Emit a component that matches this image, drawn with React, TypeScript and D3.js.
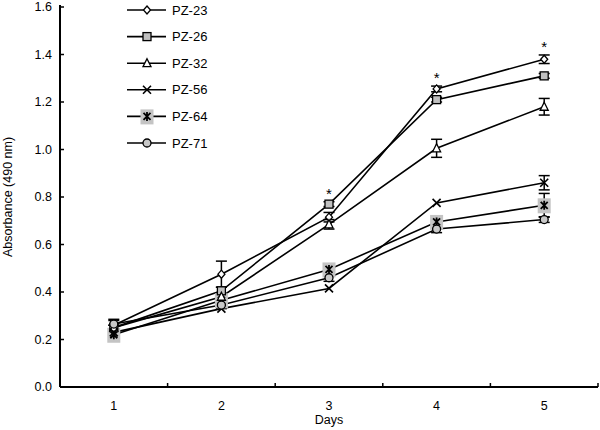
import React from "react";
import * as d3 from "d3";

const days = ["1", "2", "3", "4", "5"];
const seriesNames = ["PZ-23", "PZ-26", "PZ-32", "PZ-56", "PZ-64", "PZ-71"];
const pz23 = [0.26, 0.475, 0.715, 1.255, 1.38];
const pz26 = [0.25, 0.405, 0.77, 1.21, 1.31];
const pz32 = [0.25, 0.38, 0.685, 1.005, 1.18];
const pz56 = [0.23, 0.33, 0.415, 0.775, 0.86];
const pz64 = [0.22, 0.365, 0.495, 0.695, 0.765];
const pz71 = [0.265, 0.345, 0.46, 0.665, 0.705];
const err23 = [0.02, 0.055, 0.02, 0.012, 0.018];
const err26 = [0.01, 0.015, 0.01, 0.01, 0.01];
const err32 = [0.01, 0.01, 0.02, 0.038, 0.035];
const err56 = [0, 0, 0, 0, 0.03];
const err64 = [0.015, 0.02, 0.02, 0.02, 0.05];
const err71 = [0.02, 0.015, 0.015, 0.015, 0.012];
const yTicks = [0, 0.2, 0.4, 0.6, 0.8, 1.0, 1.2, 1.4, 1.6];
const starDays = ["3", "4", "5"];
const starValues = [0.77, 1.255, 1.38];
const starErrs = [0.01, 0.012, 0.018];

const values = [pz23, pz26, pz32, pz56, pz64, pz71];
const errs = [err23, err26, err32, err56, err64, err71];
const kinds = ["diamond", "square", "triangle", "x", "star", "circle"];

function Marker({ kind, x, y }: { kind: string; x: number; y: number }) {
  const s = "#000";
  switch (kind) {
    case "diamond":
      return <path d={`M${x},${y - 4}L${x + 3.5},${y}L${x},${y + 4}L${x - 3.5},${y}Z`} fill="#fff" stroke={s} strokeWidth={1.3} />;
    case "square":
      return <rect x={x - 4} y={y - 4} width={8} height={8} fill="#c0c0c0" stroke={s} strokeWidth={1.3} />;
    case "triangle":
      return <path d={`M${x},${y - 4.5}L${x + 4},${y + 3.5}L${x - 4},${y + 3.5}Z`} fill="#fff" stroke={s} strokeWidth={1.3} />;
    case "x":
      return <path d={`M${x - 4},${y - 4}L${x + 4},${y + 4}M${x + 4},${y - 4}L${x - 4},${y + 4}`} stroke={s} strokeWidth={1.6} />;
    case "star":
      return (
        <g>
          <rect x={x - 6.5} y={y - 7} width={13} height={15} fill="#c4c4c4" />
          <path d={`M${x - 3.5},${y - 3.5}L${x + 3.5},${y + 3.5}M${x + 3.5},${y - 3.5}L${x - 3.5},${y + 3.5}M${x},${y - 4.5}L${x},${y + 4.5}`} stroke={s} strokeWidth={1.8} />
        </g>
      );
    default:
      return <circle cx={x} cy={y} r={4} fill="#c8c8c8" stroke={s} strokeWidth={1.3} />;
  }
}

export default function App() {
  const W = 600, H = 430;
  const left = 60, right = 598, top = 7, bottom = 387;
  const x = d3.scaleBand<string>().domain(days).range([left, right]);
  const y = d3.scaleLinear().domain([0, 1.6]).range([bottom, top]);
  const cx = (d: string) => (x(d) as number) + x.bandwidth() / 2;
  const line = d3.line<number>().x((_, i) => cx(days[i])).y((v) => y(v));
  const boundaries = days.map((d) => (x(d) as number) + x.bandwidth());
  const font = "Liberation Sans, Arial, sans-serif";
  const legendY = d3.scalePoint<string>().domain(seriesNames).range([10, 143]);

  return (
    <svg width={W} height={H} style={{ position: "absolute", left: 0, top: 0, background: "#fff" }} fontFamily={font}>
      <rect width={W} height={H} fill="#fff" />
      <line x1={left} y1={top - 2} x2={left} y2={bottom} stroke="#000" strokeWidth={2} />
      <line x1={left} y1={bottom} x2={right} y2={bottom} stroke="#000" strokeWidth={2} />
      {yTicks.map((t) => (
        <g key={t}>
          <line x1={left} x2={left + 4} y1={y(t)} y2={y(t)} stroke="#000" strokeWidth={1.5} />
          <text x={left - 8} y={y(t)} dy="0.35em" textAnchor="end" fontSize={12.5}>{t.toFixed(1)}</text>
        </g>
      ))}
      {boundaries.map((b, i) => (
        <line key={i} x1={b} x2={b} y1={bottom} y2={bottom - 4} stroke="#000" strokeWidth={1.5} />
      ))}
      {days.map((d) => (
        <text key={d} x={cx(d)} y={410} textAnchor="middle" fontSize={12.5}>{d}</text>
      ))}
      <text x={cx("3")} y={424} textAnchor="middle" fontSize={12.5}>Days</text>
      <text transform={`translate(12,${(top + bottom) / 2}) rotate(-90)`} textAnchor="middle" fontSize={12.5}>Absorbance (490 nm)</text>

      {values.map((vals, si) => (
        <path key={si} d={line(vals) || ""} fill="none" stroke="#000" strokeWidth={1.6} />
      ))}
      {values.map((vals, si) =>
        vals.map((v, i) => {
          const e = errs[si][i];
          if (e <= 0) return null;
          const px = cx(days[i]);
          return (
            <g key={`${si}-${i}`} stroke="#000" strokeWidth={1.5}>
              <line x1={px} x2={px} y1={y(v + e)} y2={y(v - e)} />
              <line x1={px - 5.5} x2={px + 5.5} y1={y(v + e)} y2={y(v + e)} />
              <line x1={px - 5.5} x2={px + 5.5} y1={y(v - e)} y2={y(v - e)} />
            </g>
          );
        })
      )}
      {[4, 0, 1, 2, 3, 5].map((si) =>
        values[si].map((v, i) => <Marker key={`m${si}-${i}`} kind={kinds[si]} x={cx(days[i])} y={y(v)} />)
      )}
      {starDays.map((d, i) => (
        <text key={d} x={cx(d)} y={y(starValues[i] + starErrs[i]) - 3} textAnchor="middle" fontSize={15}>*</text>
      ))}
      {seriesNames.map((n, i) => {
        const ly = legendY(n) as number;
        return (
          <g key={n}>
            <line x1={127} x2={166} y1={ly} y2={ly} stroke="#000" strokeWidth={1.6} />
            <Marker kind={kinds[i]} x={147} y={ly} />
            <text x={172} y={ly} dy="0.35em" fontSize={13}>{n}</text>
          </g>
        );
      })}
    </svg>
  );
}
